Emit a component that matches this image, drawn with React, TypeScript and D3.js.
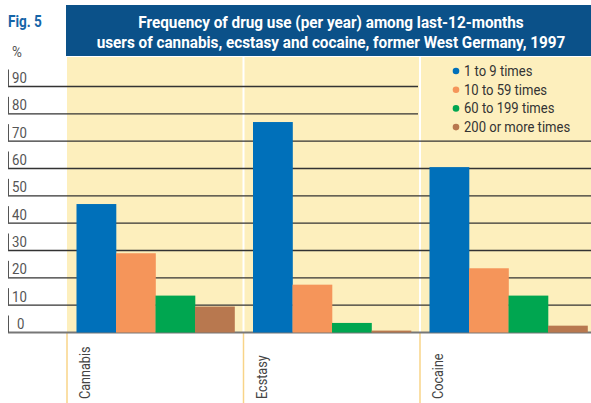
import React from "react";
import * as d3 from "d3";

const categories = ["Cannabis", "Ecstasy", "Cocaine"];
const seriesNames = ["1 to 9 times", "10 to 59 times", "60 to 199 times", "200 or more times"];
const values1to9 = [47, 77, 60.5];
const values10to59 = [29, 17.5, 23.5];
const values60to199 = [13.5, 3.5, 13.5];
const values200plus = [9.5, 0.7, 2.5];
const yTicks = [0, 10, 20, 30, 40, 50, 60, 70, 80, 90];
const titleLines = [
  "Frequency of drug use (per year) among last-12-months",
  "users of cannabis, ecstasy and cocaine, former West Germany, 1997",
];
const colors = ["#0070ba", "#f5955a", "#00a650", "#b8784f"];

const W = 591;
const H = 403;
const FONT = "Roboto, 'Liberation Sans', sans-serif";

function CText({
  x,
  y,
  sx = 0.84,
  rotate = 0,
  anchor = "start",
  children,
  ...rest
}: any) {
  return (
    <text
      transform={`translate(${x},${y}) rotate(${rotate}) scale(${sx},1)`}
      textAnchor={anchor}
      fontFamily={FONT}
      {...rest}
    >
      {children}
    </text>
  );
}

export default function App() {
  const series = [values1to9, values10to59, values60to199, values200plus];
  const plotLeft = 67;
  const plotTop = 57;
  const y = d3.scaleLinear().domain([0, 90]).range([332.5, 86.5]);
  const x0 = d3.scaleBand<string>().domain(categories).range([plotLeft, plotLeft + 176.5 * 3]);
  const x1 = d3
    .scaleBand<number>()
    .domain(d3.range(seriesNames.length))
    .range([9.5, 167.5]);
  const separators = categories.map((c) => x0(c) as number);

  return (
    <svg
      width={W}
      height={H}
      style={{ position: "absolute", left: 0, top: 0, background: "#fff" }}
    >
      {/* Fig label */}
      <CText x={8} y={27} sx={0.85} fill="#1565a8" fontWeight="bold" fontSize={16}>
        Fig. 5
      </CText>
      {/* title bar */}
      <rect x={66} y={5} width={W - 66} height={51} fill="#0b5189" />
      {titleLines.map((t, i) => (
        <CText
          key={i}
          x={331}
          y={28 + i * 20}
          sx={0.9}
          anchor="middle"
          fill="#fff"
          fontWeight="bold"
          fontSize={17}
        >
          {t}
        </CText>
      ))}
      {/* plot background */}
      <rect x={plotLeft} y={plotTop} width={W - plotLeft} height={332.5 - plotTop} fill="#fdefbd" />
      {/* white separators */}
      {separators.slice(1).map((sx, i) => (
        <line key={i} x1={sx} x2={sx} y1={plotTop} y2={332} stroke="#fff" strokeWidth={2} />
      ))}
      {/* orange separators below axis */}
      {separators.map((sx, i) => (
        <line key={i} x1={sx} x2={sx} y1={333} y2={H} stroke="#f8d489" strokeWidth={1.5} />
      ))}
      {/* y label */}
      <CText x={12} y={57} sx={0.9} fill="#555" fontSize={15}>
        %
      </CText>
      {/* gridlines and ticks */}
      {yTicks.map((t) => {
        const yy = y(t);
        const end = t >= 80 ? 418 : W;
        return (
          <g key={t}>
            <line x1={8} x2={end} y1={yy} y2={yy} stroke={t === 0 ? "#777" : "#333"} strokeWidth={t === 0 ? 2 : 1.3} />
            <line x1={8.5} x2={8.5} y1={yy - 17} y2={yy} stroke="#555" strokeWidth={1} />
            <CText x={t === 0 ? 17 : 12} y={yy - 3.5} sx={0.85} fill="#555" fontSize={15.5}>
              {t}
            </CText>
          </g>
        );
      })}
      {/* bars */}
      {categories.map((c, ci) => (
        <g key={c} transform={`translate(${x0(c)},0)`}>
          {series.map((s, si) => (
            <rect
              key={si}
              x={x1(si)}
              y={y(s[ci])}
              width={x1.bandwidth() + 0.3}
              height={y(0) - y(s[ci])}
              fill={colors[si]}
            />
          ))}
        </g>
      ))}
      {/* category labels */}
      {categories.map((c) => {
        const cx = (x0(c) as number) + 23;
        return (
          <CText key={c} x={cx} y={399} rotate={-90} sx={0.87} fill="#444" fontSize={14.5}>
            {c}
          </CText>
        );
      })}
      {/* legend */}
      {seriesNames.map((n, i) => (
        <g key={n} transform={`translate(456,${71 + i * 18.7})`}>
          <circle cx={0} cy={0} r={3.3} fill={colors[i]} />
          <CText x={8} y={5} sx={0.9} fill="#333" fontSize={14.5}>
            {n}
          </CText>
        </g>
      ))}
    </svg>
  );
}
